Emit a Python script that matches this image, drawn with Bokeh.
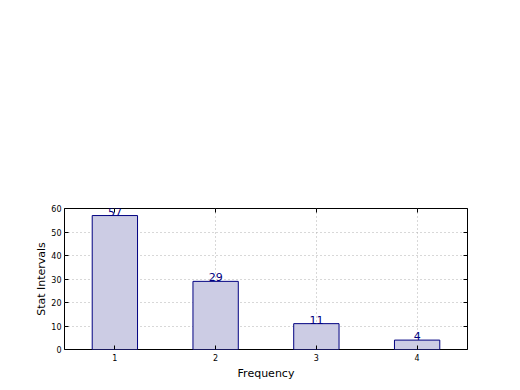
from bokeh.plotting import figure
from bokeh.models import ColumnDataSource, LinearAxis, FixedTicker, Range1d
from bokeh.embed import file_html
from bokeh.resources import INLINE
from bokeh.core.properties import value

categories = [1, 2, 3, 4]
counts = [57, 29, 11, 4]
labels = ["57", "29", "11", "4"]
yticks = [0, 10, 20, 30, 40, 50, 60]

src = ColumnDataSource(dict(x=categories, top=counts, lab=labels))

p = figure(width=512, height=382, output_backend="svg", toolbar_location=None,
           x_range=Range1d(0.5, 4.5), y_range=Range1d(0, 60),
           min_border_left=64, min_border_right=45, min_border_top=208, min_border_bottom=32)
p.background_fill_color = "white"
p.border_fill_color = "white"
p.outline_line_color = "black"
p.outline_line_width = 1

p.vbar(x="x", top="top", width=0.45, bottom=0, source=src,
       fill_color="#cccce4", line_color="navy", line_width=1)
p.text(x="x", y="top", text="lab", source=src, text_align="center", text_baseline="bottom",
       text_color="navy", text_font=value("DejaVu Sans"), text_font_size="11px")

for ax in [p.xaxis[0], p.yaxis[0]]:
    ax.major_tick_in = 4
    ax.major_tick_out = 0
    ax.minor_tick_line_color = None
    ax.axis_line_color = None
    ax.major_label_text_font = "DejaVu Sans"
    ax.major_label_text_font_size = "8px"
    ax.major_label_text_color = "black"
    ax.axis_label_text_font = "DejaVu Sans"
    ax.axis_label_text_font_size = "11px"
    ax.axis_label_text_font_style = "normal"
    ax.axis_label_text_color = "black"

p.xaxis.ticker = FixedTicker(ticks=categories)
p.yaxis.ticker = FixedTicker(ticks=yticks)
p.xaxis.axis_label = "Frequency"
p.yaxis.axis_label = "Stat Intervals"
p.xaxis.major_label_standoff = 4
p.yaxis.major_label_standoff = 3
p.xaxis.axis_label_standoff = 3
p.yaxis.axis_label_standoff = 0

top_ax = LinearAxis(ticker=FixedTicker(ticks=categories),
                    major_label_overrides={t: "" for t in categories},
                    major_tick_in=4, major_tick_out=0, minor_tick_line_color=None, axis_line_color=None)
right_ax = LinearAxis(ticker=FixedTicker(ticks=yticks),
                      major_label_overrides={t: "" for t in yticks},
                      major_tick_in=4, major_tick_out=0, minor_tick_line_color=None, axis_line_color=None)
p.add_layout(top_ax, "above")
p.add_layout(right_ax, "right")

p.xgrid.ticker = FixedTicker(ticks=categories)
p.ygrid.ticker = FixedTicker(ticks=yticks)
p.grid.grid_line_color = "#b0b0b0"
p.grid.grid_line_dash = "1 3"
p.grid.grid_line_width = 1

open("out.html", "w").write(file_html(p, INLINE))
